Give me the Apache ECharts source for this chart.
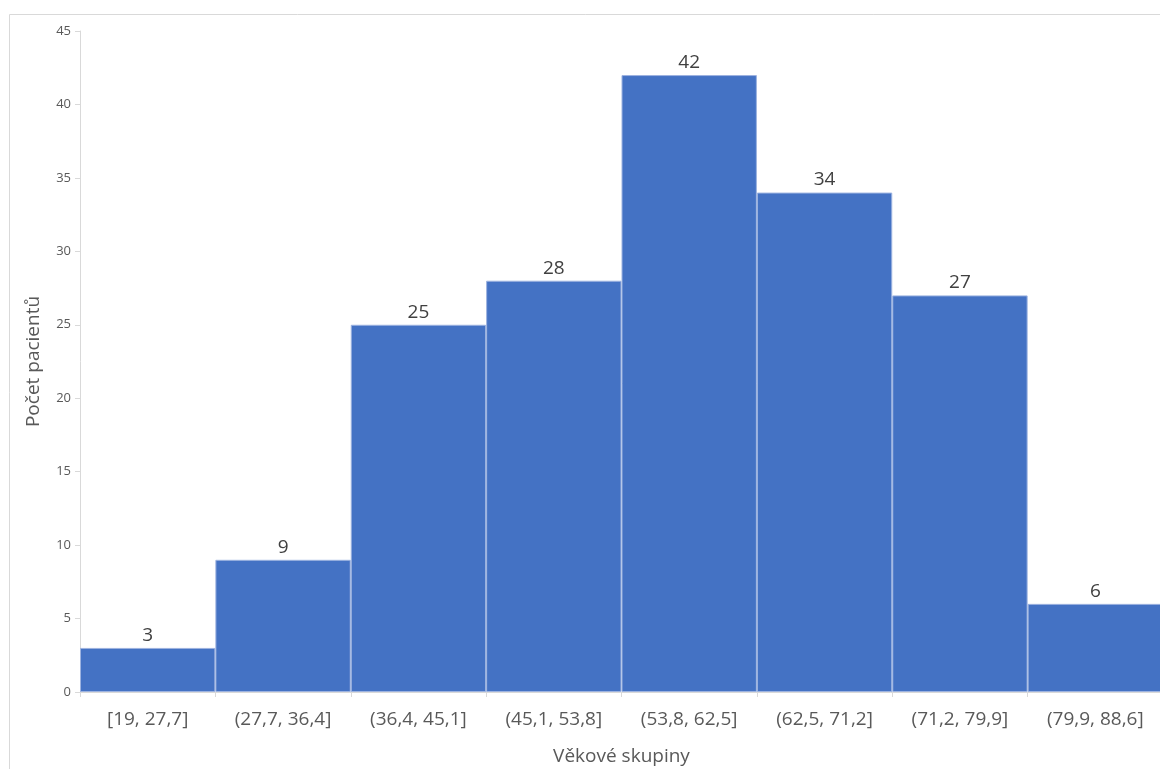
<!DOCTYPE html>
<html>
<head>
<meta charset="utf-8">
<script src="https://cdn.jsdelivr.net/npm/echarts@6/dist/echarts.min.js"></script>
<style>
  html, body { margin: 0; padding: 0; background: #fff; }
  #chart { width: 1160px; height: 769px; }
</style>
</head>
<body>
<div id="chart"></div>
<script>
// Age-group histogram of patients
const categories = ['[19, 27,7]', '(27,7, 36,4]', '(36,4, 45,1]', '(45,1, 53,8]',
                    '(53,8, 62,5]', '(62,5, 71,2]', '(71,2, 79,9]', '(79,9, 88,6]'];
const counts = [3, 9, 25, 28, 42, 34, 27, 6];
const yTicks = { min: 0, max: 45, interval: 5 };

const FONT = '"Open Sans", "Noto Sans", sans-serif';
const chart = echarts.init(document.getElementById('chart'), null, { renderer: 'canvas' });

chart.setOption({
  animation: false,
  textStyle: { fontFamily: FONT },
  graphic: [{
    type: 'rect',
    shape: { x: 9.5, y: 14.5, width: 1300, height: 900 },
    style: { fill: 'none', stroke: '#d9d9d9', lineWidth: 1 },
    silent: true
  }],
  grid: { left: 80, right: -3, top: 31, bottom: 77, outerBoundsMode: 'none', containLabel: false },
  xAxis: {
    type: 'category',
    data: categories,
    name: 'Věkové skupiny',
    nameLocation: 'middle',
    nameGap: 55,
    nameTextStyle: { fontSize: 19, color: '#595959', fontFamily: FONT },
    axisLine: { lineStyle: { color: '#d9d9d9', width: 1 } },
    axisTick: { show: true, length: 5, lineStyle: { color: '#d9d9d9' } },
    axisLabel: { fontSize: 19, color: '#595959', margin: 18, fontFamily: FONT, interval: 0 },
    splitLine: { show: false }
  },
  yAxis: {
    type: 'value',
    min: yTicks.min, max: yTicks.max, interval: yTicks.interval,
    name: 'Počet pacientů',
    nameLocation: 'middle',
    nameGap: 37,
    nameRotate: 90,
    nameTextStyle: { fontSize: 19, color: '#595959', fontFamily: FONT },
    axisLine: { show: true, lineStyle: { color: '#d9d9d9', width: 1 } },
    axisTick: { show: true, length: 5, lineStyle: { color: '#d9d9d9' } },
    axisLabel: { fontSize: 13, color: '#595959', margin: 9, fontFamily: FONT },
    splitLine: { show: false }
  },
  series: [{
    type: 'bar',
    data: counts,
    barWidth: '100%',
    barCategoryGap: 0,
    itemStyle: { color: '#4472C4', borderColor: '#9db3e0', borderWidth: 1 },
    label: {
      show: true,
      position: 'top',
      distance: 3,
      fontSize: 19,
      color: '#404040',
      fontFamily: FONT
    }
  }]
});
</script>
</body>
</html>
